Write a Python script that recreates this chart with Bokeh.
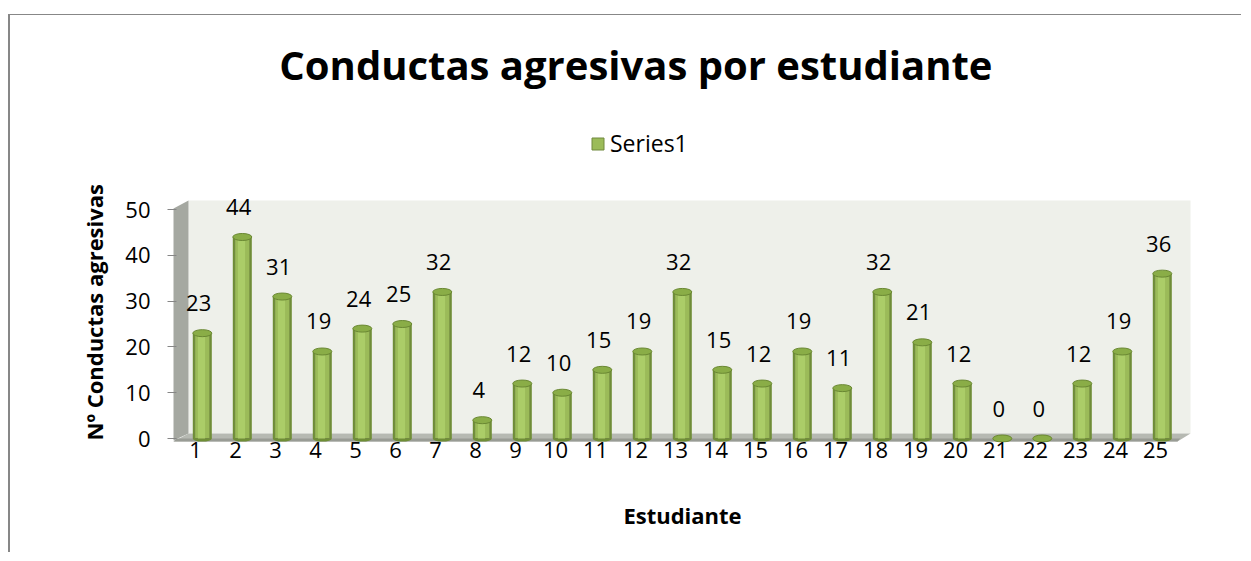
from bokeh.plotting import figure
from bokeh.models import Range1d, FixedTicker, ColumnDataSource, Label, Legend, LegendItem, Title
from bokeh.transform import dodge
from bokeh.core.properties import value
from bokeh.embed import file_html
from bokeh.resources import INLINE

# ---------------- data ----------------
students = list(range(1, 26))
counts = [23, 44, 31, 19, 24, 25, 32, 4, 12, 10, 15, 19, 32, 15, 12, 19, 11, 32, 21, 12, 0, 0, 12, 19, 36]
y_ticks = [0, 10, 20, 30, 40, 50]
title_text = "Conductas agresivas por estudiante"
series_name = "Series1"
x_title = "Estudiante"
y_title = "Nº Conductas agresivas"

FONT = "Open Sans"

src = ColumnDataSource(dict(student=students, count=counts, label=[str(c) for c in counts]))

p = figure(width=1233, height=538, output_backend="svg", toolbar_location=None,
           x_range=Range1d(0.425, 25.925), y_range=Range1d(-0.87, 92.36),
           min_border_left=162, min_border_right=51, min_border_top=0, min_border_bottom=111)
p.styles = {"border-top": "1px solid #878787", "border-left": "2px solid #878787",
            "margin-top": "14px", "margin-left": "8px"}
p.grid.visible = False
p.outline_line_color = None
p.background_fill_color = "white"
p.border_fill_color = "white"

# ------------- 3D walls (decoration) -------------
p.quad(left=0.825, right=25.875, bottom=1.09, top=51.97, fill_color="#eef0ea", line_color=None)
p.patch(x=[0.45, 0.45, 0.825, 0.825], y=[-0.44, 50.2, 51.97, 1.09], fill_color="#a5a8a1", line_color=None)
p.patch(x=[0.45, 25.55, 25.875, 0.825], y=[-0.66, -0.66, 1.09, 1.09], fill_color="#b6b9b2", line_color=None)
p.patch(x=[0.45, 25.55, 25.62, 0.52], y=[-0.66, -0.66, 0.0, 0.0], fill_color="#999c95", line_color=None)

# ------------- cylinders -------------
bx = dodge("student", 0.17, range=p.x_range)
p.ellipse(x=bx, y=0, width=0.475, height=6, height_units="screen", source=src,
          fill_color="#6f8e36", line_color=None)
p.vbar(x=bx, top="count", bottom=0, width=0.475, source=src, fill_color="#6f8e36", line_color=None)
mid = p.vbar(x=bx, top="count", bottom=0, width=0.38, source=src, fill_color="#9bbb59",
             line_color="#71893f", line_width=1)
p.vbar(x=dodge("student", 0.15, range=p.x_range), top="count", bottom=0, width=0.18, source=src,
       fill_color="#abcd68", line_color=None)
p.ellipse(x=bx, y="count", width=0.475, height=7, height_units="screen", source=src,
          fill_color="#8aad47", line_color="#6a8833", line_width=1)

# data labels
p.text(x=dodge("student", 0.08, range=p.x_range), y="count", text="label", source=src,
       y_offset=-30, text_align="center", text_baseline="alphabetic",
       text_font=value(FONT), text_font_size="22px", text_color="black")

# legend
legend = Legend(items=[LegendItem(label=series_name, renderers=[mid])],
                location=(418, 283), orientation="horizontal",
                padding=0, margin=0, border_line_color=None, background_fill_alpha=0,
                glyph_width=15, glyph_height=15, label_standoff=5, label_height=20,
                label_text_font=FONT, label_text_font_size="23px", label_text_color="black")
p.add_layout(legend, "center")

# title
p.add_layout(Label(x=12.01, y=81.6, text=title_text, text_align="center", text_baseline="alphabetic",
                   text_font=FONT, text_font_style="bold", text_font_size="40px", text_color="black"))

# axes
ya = p.yaxis[0]
ya.ticker = FixedTicker(ticks=y_ticks)
ya.axis_line_color = None
ya.major_tick_line_color = "#868686"
ya.major_tick_out = 5
ya.major_tick_in = 4
ya.minor_tick_line_color = None
ya.major_label_standoff = 17
ya.major_label_text_font = FONT
ya.major_label_text_font_size = "22px"
ya.major_label_text_color = "black"

# y-axis title on the left side, starting near the floor
p.add_layout(Title(text=y_title, align="left", offset=2, standoff=28,
                   text_font=FONT, text_font_style="bold", text_font_size="22px",
                   text_color="black"), "left")

xa = p.xaxis[0]
xa.ticker = FixedTicker(ticks=students)
xa.axis_line_color = None
xa.major_tick_line_color = None
xa.minor_tick_line_color = None
xa.major_label_standoff = -7
xa.major_label_text_font = FONT
xa.major_label_text_font_size = "22px"
xa.major_label_text_color = "black"
xa.axis_label = x_title
xa.axis_label_text_font = FONT
xa.axis_label_text_font_style = "bold"
xa.axis_label_text_font_size = "22px"
xa.axis_label_standoff = 39
xa.axis_label_text_color = "black"

open("out.html", "w").write(file_html(p, INLINE))
